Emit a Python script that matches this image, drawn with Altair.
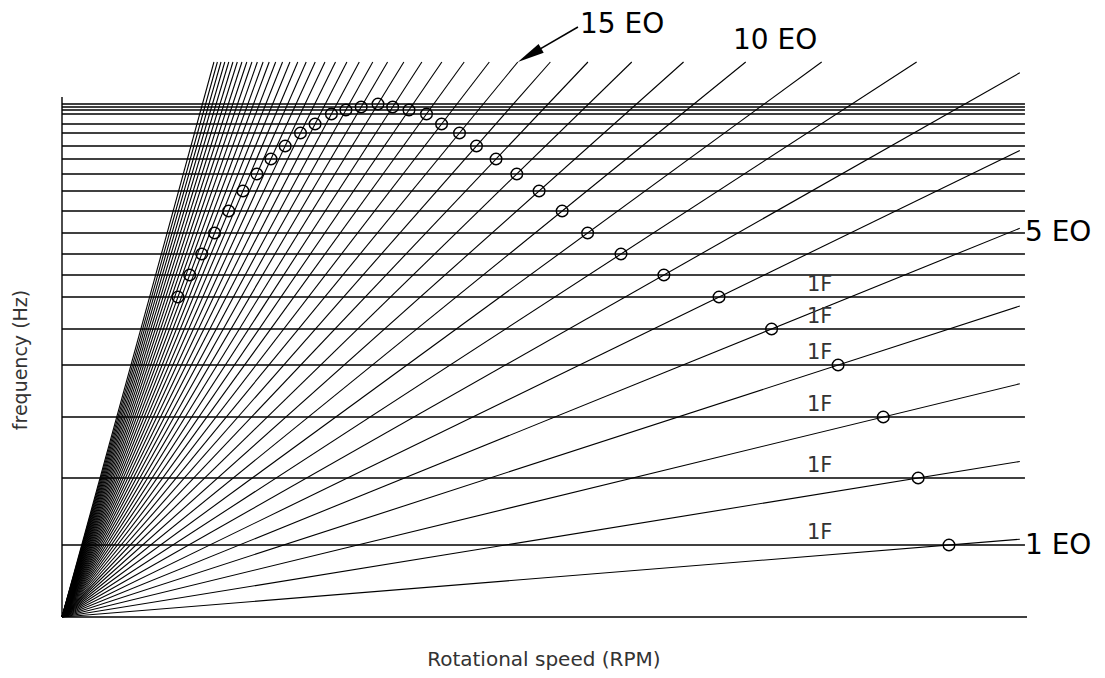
import math
import altair as alt
import pandas as pd

# ---------------- data ----------------
EO_ORDERS = list(range(1, 46))                      # engine-order lines drawn from the origin
ND_NUMBERS = list(range(1, 21))                     # horizontal 1F frequency lines
ND_FREQ_HZ = [72, 139, 200, 252, 288, 320, 342, 363, 384, 406,
              426, 443, 458, 471, 484, 493, 503, 507, 510, 513]
CIRCLE_EO = list(range(1, 35))                      # crossings marked with circles
CIRCLE_ND = list(range(1, 21)) + list(range(19, 5, -1))
LABEL_1F_ND = [1, 2, 3, 4, 5, 6]
LABEL_1F_RPM = 3628
EO_LABEL_TEXT = ["1 EO", "5 EO", "10 EO", "15 EO"]
EO_LABEL_RPM = [4690, 4690, 3268, 2523]
EO_LABEL_HZ = [71, 384, 576, 592]
ARROW_EO = 15
ARROW_TAIL_RPM = 2513
ARROW_TAIL_HZ = 590

RPM_MAX = 4700          # x extent of plot
HZ_MAX = 555            # y extent of plot (EO lines stop here)
LINE_RPM_END = 4665     # EO lines stop here on the right
HLINE_RPM_END = 4690    # horizontal lines stop here
YAXIS_TOP_HZ = 520

W, H = 965, 555
FONT = "DejaVu Sans"

xs = alt.Scale(domain=[0, RPM_MAX], nice=False, zero=False)
ys = alt.Scale(domain=[0, HZ_MAX], nice=False, zero=False)


def X(f="x"):
    return alt.X(f"{f}:Q", scale=xs, axis=None)


def Y(f="y"):
    return alt.Y(f"{f}:Q", scale=ys, axis=None)


# engine-order lines
eo_rows = []
for n in EO_ORDERS:
    r_end = min(LINE_RPM_END, HZ_MAX * 60.0 / n)
    eo_rows.append({"eo": n, "x": 0, "y": 0, "x2": r_end, "y2": n * r_end / 60.0})
eo_df = pd.DataFrame(eo_rows)

eo_lines = alt.Chart(eo_df).mark_rule(color="black", strokeWidth=1.1).encode(
    x=X(), y=Y(), x2="x2:Q", y2="y2:Q", detail="eo:N"
)

# horizontal frequency lines
nd_df = pd.DataFrame({"nd": ND_NUMBERS, "y": ND_FREQ_HZ, "x": 0, "x2": HLINE_RPM_END})
h_lines = alt.Chart(nd_df).mark_rule(color="black", strokeWidth=1.4).encode(
    x=X(), x2="x2:Q", y=Y()
)

# axis lines
ax_df = pd.DataFrame({"x": [0, 0], "x2": [RPM_MAX, 0], "y": [0, 0], "y2": [0, YAXIS_TOP_HZ]})
axes = alt.Chart(ax_df).mark_rule(color="black", strokeWidth=1.4).encode(
    x=X(), x2="x2:Q", y=Y(), y2="y2:Q"
)

# circles at crossings
freq_of = dict(zip(ND_NUMBERS, ND_FREQ_HZ))
c_rows = []
for eo, nd in zip(CIRCLE_EO, CIRCLE_ND):
    f = freq_of[nd]
    c_rows.append({"eo": eo, "nd": nd, "y": f, "x": f * 60.0 / eo})
c_df = pd.DataFrame(c_rows)
circles = alt.Chart(c_df).mark_point(
    shape="circle", filled=False, color="black", size=135, strokeWidth=1.4, opacity=1
).encode(x=X(), y=Y())

# 1F labels
f1_df = pd.DataFrame({"x": LABEL_1F_RPM, "y": [freq_of[n] for n in LABEL_1F_ND], "t": "1F"})
f1_labels = alt.Chart(f1_df).mark_text(
    align="left", baseline="middle", dy=-12, fontSize=21, font=FONT, color="#333333"
).encode(x=X(), y=Y(), text="t:N")

# EO labels
eo_lab_df = pd.DataFrame({"x": EO_LABEL_RPM, "y": EO_LABEL_HZ, "t": EO_LABEL_TEXT})
eo_labels = alt.Chart(eo_lab_df).mark_text(
    align="left", baseline="middle", fontSize=28, font=FONT, color="black"
).encode(x=X(), y=Y(), text="t:N")

# arrow pointing at the top of the 15 EO line
px_per_rpm = W / RPM_MAX
px_per_hz = H / HZ_MAX
tip_rpm = HZ_MAX * 60.0 / ARROW_EO
tip_hz = HZ_MAX
dx = (tip_rpm - ARROW_TAIL_RPM) * px_per_rpm
dy = -(tip_hz - ARROW_TAIL_HZ) * px_per_hz
L = math.hypot(dx, dy)
ux, uy = dx / L, dy / L
head_len = 27
ang = (math.degrees(math.atan2(dx, -dy)) + 360) % 360
cx = tip_rpm - ux * (head_len / 2) / px_per_rpm
cy = tip_hz + uy * (head_len / 2) / px_per_hz

shaft_df = pd.DataFrame({"x": [ARROW_TAIL_RPM], "y": [ARROW_TAIL_HZ], "x2": [cx], "y2": [cy]})
shaft = alt.Chart(shaft_df).mark_rule(color="black", strokeWidth=1.5).encode(
    x=X(), y=Y(), x2="x2:Q", y2="y2:Q"
)
head_df = pd.DataFrame({"x": [cx], "y": [cy]})
head = alt.Chart(head_df).mark_point(
    shape="M0,-1L0.38,1L-0.38,1Z", filled=True, color="black", opacity=1,
    size=head_len * head_len, angle=ang, strokeWidth=0
).encode(x=X(), y=Y())

# axis titles
xt_df = pd.DataFrame({"x": [2347], "y": [-43], "t": ["Rotational speed (RPM)"]})
x_title = alt.Chart(xt_df).mark_text(
    align="center", baseline="middle", fontSize=20, font=FONT, color="#333333"
).encode(x=X(), y=Y(), text="t:N")
yt_df = pd.DataFrame({"x": [-200], "y": [257], "t": ["frequency (Hz)"]})
y_title = alt.Chart(yt_df).mark_text(
    align="center", baseline="middle", angle=270, fontSize=19, font=FONT, color="#333333"
).encode(x=X(), y=Y(), text="t:N")

chart = alt.layer(
    eo_lines, h_lines, axes, circles, f1_labels, eo_labels, shaft, head, x_title, y_title
).properties(
    width=W, height=H,
    autosize=alt.AutoSizeParams(type="none"),
    padding={"left": 54, "top": 54, "right": 70, "bottom": 53},
    background="white",
).configure_view(stroke=None)

chart.save("out.html", embed_options={"renderer": "svg", "actions": False})
